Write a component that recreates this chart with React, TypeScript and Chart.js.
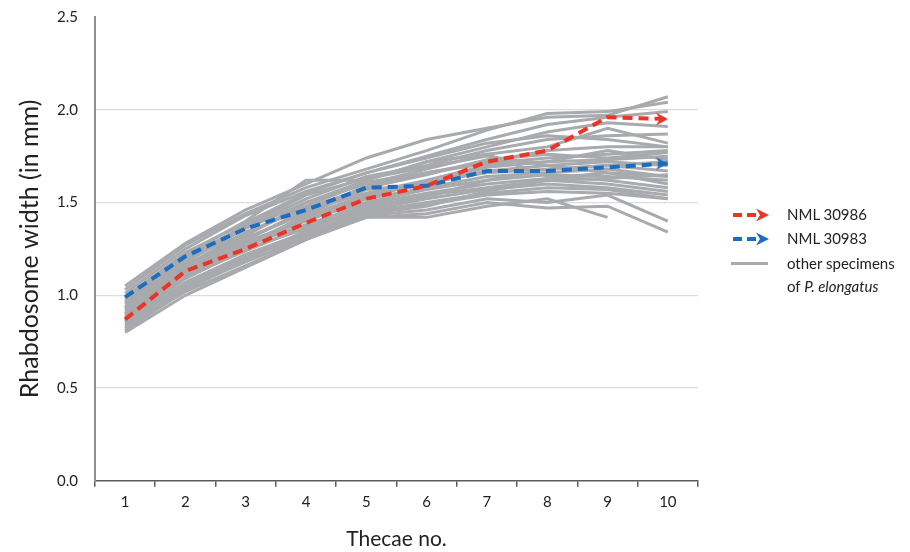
import React, { useEffect, useRef } from "react";
import { Chart, registerables } from "chart.js";

Chart.register(...registerables);

const thecae = ["1", "2", "3", "4", "5", "6", "7", "8", "9", "10"];
const yTickValues = [0, 0.5, 1.0, 1.5, 2.0, 2.5];

const nml30986 = [0.87, 1.13, 1.25, 1.39, 1.52, 1.59, 1.72, 1.78, 1.96, 1.95];
const nml30983 = [0.99, 1.21, 1.36, 1.46, 1.58, 1.59, 1.67, 1.67, 1.69, 1.71];

const g1 = [1.05, 1.28, 1.46, 1.60, 1.74, 1.84, 1.90, 1.96, 1.97, 2.07];
const g2 = [1.03, 1.27, 1.44, 1.58, 1.68, 1.78, 1.89, 1.98, 1.99, 2.04];
const g3 = [1.01, 1.25, 1.43, 1.56, 1.66, 1.75, 1.84, 1.92, 1.96, 1.99];
const g4 = [0.99, 1.22, 1.40, 1.62, 1.62, 1.72, 1.80, 1.88, 1.93, 1.91];
const g5 = [0.98, 1.21, 1.37, 1.52, 1.64, 1.70, 1.78, 1.84, 1.86, 1.87];
const g6 = [0.97, 1.18, 1.36, 1.50, 1.60, 1.68, 1.76, 1.80, 1.90, 1.82];
const g7 = [0.96, 1.20, 1.33, 1.48, 1.61, 1.66, 1.72, 1.78, 1.80, 1.80];
const g8 = [0.95, 1.16, 1.34, 1.47, 1.58, 1.65, 1.73, 1.76, 1.74, 1.77];
const g9 = [0.94, 1.17, 1.30, 1.46, 1.55, 1.62, 1.70, 1.72, 1.78, 1.73];
const g10 = [0.93, 1.14, 1.31, 1.44, 1.57, 1.60, 1.67, 1.70, 1.72, 1.70];
const g11 = [0.92, 1.15, 1.28, 1.42, 1.53, 1.61, 1.66, 1.68, 1.70, 1.67];
const g12 = [0.91, 1.12, 1.29, 1.40, 1.52, 1.58, 1.64, 1.66, 1.68, 1.64];
const g13 = [0.90, 1.13, 1.26, 1.41, 1.50, 1.57, 1.62, 1.65, 1.64, 1.62];
const g14 = [0.89, 1.11, 1.27, 1.38, 1.49, 1.55, 1.60, 1.63, 1.66, 1.60];
const g15 = [0.88, 1.10, 1.24, 1.37, 1.47, 1.54, 1.58, 1.62, 1.60, 1.56];
const g16 = [0.87, 1.09, 1.25, 1.36, 1.46, 1.52, 1.57, 1.60, 1.58, 1.54];
const g17 = [0.86, 1.07, 1.22, 1.34, 1.45, 1.50, 1.55, 1.58, 1.57, 1.52];
const g18 = [0.85, 1.06, 1.21, 1.33, 1.44, 1.49, 1.54, 1.56, 1.55, 1.52];
const g19 = [0.84, 1.05, 1.20, 1.32, 1.43, 1.46, 1.52, 1.50, 1.54, 1.40];
const g20 = [0.83, 1.04, 1.18, 1.31, 1.42, 1.44, 1.50, 1.47, 1.48, 1.34];
const g21 = [0.82, 1.02, 1.16, 1.30, 1.42, 1.42, 1.48, 1.52, 1.42, null];
const g22 = [0.80, 1.00, 1.15, 1.30, 1.44, 1.48, 1.56, 1.62, 1.63, 1.65];
const g23 = [0.81, 1.03, 1.19, 1.35, 1.48, 1.53, 1.62, 1.68, 1.70, 1.72];
const g24 = [0.99, 1.23, 1.39, 1.55, 1.66, 1.74, 1.82, 1.86, 1.84, 1.80];
const g25 = [0.96, 1.19, 1.38, 1.54, 1.63, 1.69, 1.75, 1.70, 1.66, 1.64];
const g26 = [0.90, 1.14, 1.30, 1.45, 1.59, 1.66, 1.71, 1.74, 1.76, 1.78];
const g27 = [0.86, 1.10, 1.27, 1.43, 1.54, 1.60, 1.69, 1.72, 1.73, 1.75];
const g28 = [0.93, 1.16, 1.32, 1.50, 1.62, 1.72, 1.76, 1.64, 1.62, 1.58];

const otherSpecimens = [g1, g2, g3, g4, g5, g6, g7, g8, g9, g10, g11, g12, g13, g14, g15, g16, g17, g18, g19, g20, g21, g22, g23, g24, g25, g26, g27, g28];

const RED = "#ec3424";
const BLUE = "#1c6cbf";
const GREY = "#a8aaad";
const FONT = "Lato, 'Open Sans', sans-serif";

function arrowHead(color: string): HTMLCanvasElement {
  const c = document.createElement("canvas");
  c.width = 30;
  c.height = 16;
  const ctx = c.getContext("2d")!;
  ctx.fillStyle = color;
  ctx.beginPath();
  ctx.moveTo(15, 8);
  ctx.lineTo(3, 1.5);
  ctx.lineTo(7, 8);
  ctx.lineTo(3, 14.5);
  ctx.closePath();
  ctx.fill();
  return c;
}

function LegendArrow({ color }: { color: string }) {
  return (
    <svg width="40" height="16" style={{ display: "block" }}>
      <line x1="2" y1="8" x2="28" y2="8" stroke={color} strokeWidth="4" strokeDasharray="9 5" />
      <polygon points="38,8 25,1.5 29,8 25,14.5" fill={color} />
    </svg>
  );
}

export default function App() {
  const canvasRef = useRef<HTMLCanvasElement | null>(null);

  useEffect(() => {
    if (!canvasRef.current) return;
    const last = thecae.length - 1;
    const redArrow = arrowHead(RED);
    const blueArrow = arrowHead(BLUE);
    const datasets: any[] = [
      {
        label: "NML 30986",
        data: nml30986,
        borderColor: RED,
        backgroundColor: RED,
        borderWidth: 4,
        borderDash: [10, 6],
        pointStyle: thecae.map((_, i) => (i === last ? redArrow : "circle")),
        pointRadius: thecae.map((_, i) => (i === last ? 7 : 0)),
        tension: 0,
      },
      {
        label: "NML 30983",
        data: nml30983,
        borderColor: BLUE,
        backgroundColor: BLUE,
        borderWidth: 4,
        borderDash: [10, 6],
        pointStyle: thecae.map((_, i) => (i === last ? blueArrow : "circle")),
        pointRadius: thecae.map((_, i) => (i === last ? 7 : 0)),
        tension: 0,
      },
      ...otherSpecimens.map((s, i) => ({
        label: "other specimens " + (i + 1),
        data: s,
        borderColor: GREY,
        backgroundColor: GREY,
        borderWidth: 3,
        pointRadius: 0,
        tension: 0,
        spanGaps: false,
      })),
    ];

    const chart = new Chart(canvasRef.current, {
      type: "line",
      data: { labels: thecae, datasets },
      options: {
        animation: false,
        responsive: false,
        maintainAspectRatio: false,
        layout: { padding: { left: 15, right: 212, top: 17, bottom: 0 } },
        plugins: { legend: { display: false }, tooltip: { enabled: false } },
        scales: {
          x: {
            type: "category",
            offset: true,
            grid: {
              offset: true,
              drawOnChartArea: false,
              drawTicks: true,
              tickLength: 6,
              color: "#5a5a5a",
              lineWidth: 1.5,
            },
            border: { color: "#5a5a5a", width: 1.5 },
            ticks: { color: "#222", font: { family: FONT, size: 15 }, padding: 6 },
            title: {
              display: true,
              text: "Thecae no.",
              color: "#222",
              font: { family: FONT, size: 21 },
              padding: { top: 10, bottom: 0 },
            },
          },
          y: {
            min: 0,
            max: 2.5,
            afterBuildTicks: (axis: any) => {
              axis.ticks = yTickValues.map((v) => ({ value: v }));
            },
            grid: {
              drawTicks: true,
              tickLength: 13,
              tickColor: "rgba(0,0,0,0)",
              color: (ctx: any) =>
                ctx.tick && (ctx.tick.value === 2.5 || ctx.tick.value === 0) ? "rgba(0,0,0,0)" : "#dcdcdc",
              lineWidth: 1.2,
            },
            border: { color: "#8f8f8f", width: 2 },
            ticks: {
              color: "#222",
              font: { family: FONT, size: 15 },
              padding: 4,
              callback: (v: any) => Number(v).toFixed(1),
            },
            title: {
              display: true,
              text: "Rhabdosome width (in mm)",
              color: "#222",
              font: { family: FONT, size: 25 },
              padding: { top: 0, bottom: 8 },
            },
          },
        },
      },
    });
    return () => chart.destroy();
  }, []);

  const legendText: React.CSSProperties = {
    fontFamily: FONT,
    fontSize: 15,
    color: "#222",
    lineHeight: "23px",
  };

  return (
    <div style={{ position: "absolute", left: 0, top: 0, width: 910, height: 552, background: "#fff" }}>
      <canvas ref={canvasRef} width={910} height={552} style={{ display: "block" }} />
      <div style={{ position: "absolute", left: 731, top: 203, display: "flex", alignItems: "center" }}>
        <LegendArrow color={RED} />
        <span style={{ ...legendText, marginLeft: 16 }}>NML 30986</span>
      </div>
      <div style={{ position: "absolute", left: 731, top: 227, display: "flex", alignItems: "center" }}>
        <LegendArrow color={BLUE} />
        <span style={{ ...legendText, marginLeft: 16 }}>NML 30983</span>
      </div>
      <div style={{ position: "absolute", left: 731, top: 252, display: "flex", alignItems: "flex-start" }}>
        <div style={{ width: 37, height: 3, background: GREY, marginTop: 10 }} />
        <div style={{ ...legendText, marginLeft: 19 }}>
          other specimens
          <br />
          of <i>P. elongatus</i>
        </div>
      </div>
    </div>
  );
}
